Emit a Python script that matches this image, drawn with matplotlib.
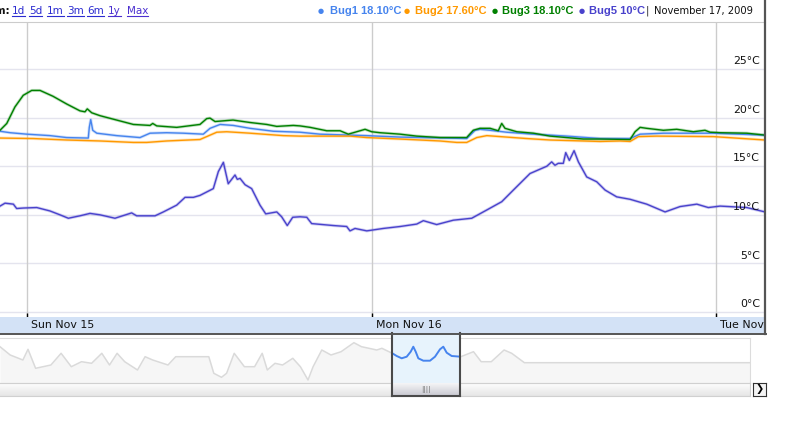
import matplotlib
matplotlib.use("Agg")
import matplotlib.pyplot as plt
import numpy as np
from matplotlib import transforms as mtransforms
from matplotlib.lines import Line2D

plt.rcParams.update({'font.family': 'DejaVu Sans', 'font.size': 8})

# ---- data: hours since Sun Nov 15 00:00, temperatures in degC ----
bug1_hours = [-1.88, -1.18, -0.02, 1.60, 2.77, 4.27, 4.34, 4.44, 4.58, 4.86, 6.25, 7.87, 8.57,
              9.73, 10.89, 12.28, 12.75, 13.45, 14.37, 15.54, 17.16, 19.02, 20.41, 23.67, 25.99,
              29.24, 30.63, 31.21, 31.56, 32.26, 33.42, 35.27, 37.60, 39.92, 42.01, 42.71, 44.33,
              46.42, 47.81, 51.41]
bug1_temp = [18.6, 18.45, 18.3, 18.15, 17.95, 17.9, 19.0, 19.8, 18.7, 18.4, 18.15, 17.95, 18.4,
             18.45, 18.4, 18.3, 18.9, 19.3, 19.2, 18.9, 18.6, 18.5, 18.3, 18.15, 18.0,
             17.9, 17.85, 18.7, 18.8, 18.7, 18.5, 18.3, 18.1, 17.85, 17.85, 18.3, 18.4,
             18.4, 18.4, 18.2]

bug2_hours = [-1.88, 0.44, 2.77, 5.09, 7.41, 8.34, 9.73, 12.05, 13.22, 13.91, 15.54, 17.86, 19.02,
              22.50, 23.67, 25.99, 28.77, 29.94, 30.63, 31.33, 32.03, 33.42, 34.81, 36.44, 38.76,
              39.92, 41.31, 42.01, 42.59, 43.87, 47.81, 51.41]
bug2_temp = [17.9, 17.85, 17.7, 17.6, 17.45, 17.45, 17.6, 17.75, 18.5, 18.55, 18.4, 18.15, 18.1,
             18.1, 17.95, 17.8, 17.6, 17.45, 17.45, 17.95, 18.15, 18.0, 17.85, 17.7, 17.6,
             17.55, 17.6, 17.55, 18.05, 18.1, 18.05, 17.7]

bug3_hours = [-1.88, -1.41, -0.84, -0.26, 0.33, 0.91, 1.81, 2.77, 3.69, 4.04, 4.20, 4.51, 5.09,
              6.25, 7.41, 8.57, 8.76, 9.04, 10.43, 12.05, 12.52, 12.75, 13.10, 13.91, 14.35, 15.54,
              16.70, 17.40, 18.55, 19.02, 19.72, 20.88, 21.81, 22.38, 22.97, 23.55, 24.01, 24.59,
              25.99, 27.15, 28.77, 30.63, 31.09, 31.56, 32.26, 32.83, 33.07, 33.30, 34.12, 35.27,
              36.44, 37.60, 38.76, 39.92, 42.01, 42.36, 42.71, 43.17, 44.33, 45.26, 46.42, 47.23,
              47.58, 48.28, 50.14, 51.41]
bug3_temp = [18.7, 19.4, 21.1, 22.3, 22.8, 22.8, 22.2, 21.4, 20.7, 20.6, 20.9, 20.5, 20.2,
             19.75, 19.3, 19.2, 19.4, 19.15, 19.0, 19.3, 19.9, 19.95, 19.6, 19.7, 19.75, 19.5,
             19.3, 19.1, 19.2, 19.15, 19.0, 18.65, 18.65, 18.3, 18.55, 18.8, 18.55, 18.45,
             18.3, 18.1, 17.95, 17.95, 18.7, 18.9, 18.9, 18.65, 19.4, 18.9, 18.55, 18.4,
             18.1, 17.95, 17.8, 17.8, 17.75, 18.55, 19.0, 18.9, 18.7, 18.8, 18.55, 18.7,
             18.5, 18.45, 18.4, 18.2]

bug5_hours = [-1.88, -1.53, -0.95, -0.72, -0.26, 0.68, 1.60, 2.30, 2.88, 3.69, 4.39, 5.09, 6.13,
              7.29, 7.64, 8.92, 9.50, 10.43, 11.01, 11.59, 12.05, 12.98, 13.33, 13.68, 14.02,
              14.49, 14.65, 14.84, 15.19, 15.65, 16.23, 16.63, 17.40, 17.74, 18.13, 18.51, 19.02,
              19.49, 19.83, 21.34, 22.27, 22.50, 22.85, 23.67, 24.82, 25.99, 27.15, 27.61, 28.54,
              29.70, 30.98, 32.03, 33.07, 33.88, 35.04, 35.74, 36.21, 36.55, 36.78, 37.01, 37.36,
              37.53, 37.78, 38.11, 38.41, 38.99, 39.69, 40.27, 41.08, 42.01, 43.17, 44.45, 45.49,
              46.66, 47.46, 48.28, 50.14, 51.41]
bug5_temp = [10.9, 11.2, 11.1, 10.65, 10.7, 10.75, 10.4, 10.0, 9.65, 9.9, 10.15, 10.0, 9.65,
             10.2, 9.9, 9.9, 10.3, 11.0, 11.8, 11.8, 12.0, 12.7, 14.45, 15.4, 13.2,
             14.1, 13.65, 13.75, 13.1, 12.7, 11.0, 10.1, 10.3, 9.8, 8.9, 9.75, 9.8,
             9.75, 9.1, 8.9, 8.8, 8.35, 8.6, 8.35, 8.6, 8.8, 9.05, 9.4, 9.0,
             9.45, 9.65, 10.5, 11.35, 12.55, 14.25, 14.7, 15.0, 15.45, 15.1, 15.3, 15.3,
             16.4, 15.6, 16.6, 15.45, 13.9, 13.4, 12.55, 11.85, 11.6, 11.1, 10.3, 10.85,
             11.1, 10.75, 10.9, 10.75, 10.3]

series_names = ["Bug1", "Bug2", "Bug3", "Bug5"]
series_colors = ["#4684ee", "#ff9900", "#008000", "#4942cc"]
legend_values = ["18.10°C", "17.60°C", "18.10°C", "10°C"]
date_label = "November 17, 2009"

day_ticks = [0, 24, 48]
day_labels = ["Sun Nov 15", "Mon Nov 16", "Tue Nov 17"]
y_ticks = [0, 5, 10, 15, 20, 25]
zoom_links = ["1d", "5d", "1m", "3m", "6m", "1y", "Max"]

# overview (scroller) series: position along the full range and relative level
ov_pos = [0, 10.2, 22.9, 28, 35.6, 50.9, 61.1, 71.3, 81.5, 91.6, 101.8, 109.5, 117.1, 124.7,
          137.5, 145.1, 152.7, 168, 175.7, 208.8, 213.8, 221.5, 226.6, 234.2, 244.4, 254.6,
          262.2, 267.3, 275, 282.6, 292.8, 300.4, 308, 313.1, 321.8, 331, 341.1, 353.9, 361.5,
          376.8, 381.9, 392.3, 396.7, 401.7, 406.7, 410.7, 413.3, 415.7, 418.3, 423.3, 430,
          435, 440, 443.3, 446.7, 451.7, 460.8, 473.5, 481.2, 491.3, 504.1, 511.7, 524.4, 750]
ov_level = [36.3, 28, 23, 33.7, 14.7, 18, 29.7, 16.3, 21.3, 19.7, 29.7, 18, 29.7, 21.3,
            13, 26.3, 23, 18, 26.3, 26.3, 9.7, 5.7, 9.7, 29.7, 16.3, 16.3,
            29.7, 13, 19.7, 18, 24.7, 16.3, 3, 16.3, 33, 28, 31.3, 40.3, 36.3,
            33, 34.7, 29.7, 27, 24.7, 26.3, 31.3, 36.3, 31.3, 24.7, 22.3, 22.3,
            26.3, 33.7, 36.3, 30.3, 27, 26.3, 31.3, 21.3, 21.3, 33, 29.7, 20.3, 20.3]
window_range = (392, 460)

W, H = 799, 428
fig = plt.figure(figsize=(W / 100, H / 100), dpi=100)


def px_axes(x0, y0, x1, y1):
    return fig.add_axes([x0 / W, 1 - y1 / H, (x1 - x0) / W, (y1 - y0) / H])


def fx(x):
    return x / W


def fy(y):
    return 1 - y / H


# ---- main chart ----
ax = px_axes(0, 22, 765, 317)
xlim = (-1.88, 51.41)
ax.set_xlim(*xlim)
ax.set_ylim(-0.51, 29.84)
for s in ['left', 'right', 'bottom']:
    ax.spines[s].set_visible(False)
ax.spines['top'].set_color('#cccccc')
ax.set_xticks([])
ax.set_yticks([])
for v in y_ticks:
    ax.axhline(v, color='#e4e4ee', lw=1, zorder=1)
for h in day_ticks:
    ax.axvline(h, color='#cccccc', lw=1, zorder=1)
ax.vlines(day_ticks, -0.51, -0.08, color='black', lw=1, zorder=3)

for hrs, temp, c in zip([bug1_hours, bug2_hours, bug3_hours, bug5_hours],
                        [bug1_temp, bug2_temp, bug3_temp, bug5_temp], series_colors):
    ax.plot(hrs, temp, color=c, lw=2.2, alpha=0.25, solid_joinstyle='round', zorder=2)
    ax.plot(hrs, temp, color=c, lw=1.0, solid_joinstyle='round', zorder=3)

for v in y_ticks:
    ax.annotate(f"{v}°C", xy=(1, v), xycoords=('axes fraction', 'data'),
                xytext=(-3.6, 5.6), textcoords='offset points',
                ha='right', va='center', fontsize=7.9, color='#111111', zorder=4)

# ---- date band ----
band = px_axes(0, 317, 765, 333)
band.set_facecolor('#d3e2f6')
band.set_xlim(*xlim)
band.set_ylim(0, 1)
band.set_xticks([])
band.set_yticks([])
for s in band.spines.values():
    s.set_visible(False)
trans = mtransforms.offset_copy(band.get_xaxis_transform(), fig=fig, x=4, y=0, units='dots')
for h, lab in zip(day_ticks, day_labels):
    band.text(h, 0.5, lab, transform=trans, ha='left', va='center', fontsize=7.9,
              color='#111111', clip_on=True)

# borders around chart
fig.add_artist(Line2D([fx(765), fx(765)], [fy(0), fy(334)], color='#555555', lw=1.6))
fig.add_artist(Line2D([fx(0), fx(766)], [fy(333.5), fy(333.5)], color='#555555', lw=1.4))

# ---- overview / scroller ----
ov = px_axes(0, 338, 750, 383)
ov.set_xlim(0, 750)
ov.set_ylim(0, 45)
ov.set_xticks([])
ov.set_yticks([])
ov.spines['left'].set_visible(False)
for s in ['top', 'right', 'bottom']:
    ov.spines[s].set_color('#dcdcdc')
ov.fill_between(ov_pos, ov_level, 0, color='#f6f6f6', lw=0)
ov.plot(ov_pos, ov_level, color='#dadada', lw=1.1)

track = px_axes(0, 383, 750, 396)
grad = np.linspace(0, 1, 20).reshape(-1, 1)
track.imshow(grad, aspect='auto', cmap=plt.matplotlib.colors.LinearSegmentedColormap.from_list(
    'trk', ['#ffffff', '#e6e6e6']), extent=(0, 1, 0, 1))
track.set_xticks([])
track.set_yticks([])
track.spines['left'].set_visible(False)
for s in ['top', 'right', 'bottom']:
    track.spines[s].set_color('#d0d0d0')

win = px_axes(window_range[0], 333, window_range[1], 396)
win.set_facecolor('#e7f3fc')
win.set_xlim(*window_range)
win.set_ylim(-13, 50)
win.set_xticks([])
win.set_yticks([])
win.spines['top'].set_visible(False)
for s in ['left', 'right', 'bottom']:
    win.spines[s].set_color('#4a4a4a')
    win.spines[s].set_linewidth(1.5)
win.plot(ov_pos, ov_level, color='#4684ee', lw=1.4)
hgrad = np.linspace(0, 1, 20).reshape(-1, 1)
win.imshow(hgrad, aspect='auto', extent=(window_range[0], window_range[1], -13, 0),
           cmap=plt.matplotlib.colors.LinearSegmentedColormap.from_list(
               'hdl', ['#f4f4f6', '#c9c9d1']), zorder=2)
win.text(sum(window_range) / 2, -6.5, "||||", ha='center', va='center', fontsize=5,
         color='#777777', zorder=3)

btn = px_axes(753, 383, 766, 396)
btn.set_xticks([])
btn.set_yticks([])
btn.set_facecolor('#f4f4f4')
for s in btn.spines.values():
    s.set_color('#333333')
btn.text(0.5, 0.5, "❯", ha='center', va='center', fontsize=7, fontweight='bold',
         transform=btn.transAxes)

# ---- header: zoom links ("Zoom:" is cut at the left edge as in the original) ----
fig.text(fx(10.5), fy(11), "Zoom:", ha='right', va='center', fontsize=7.4, fontweight='bold',
         color='#111111')
link_x = [12, 29, 47, 67, 87, 108, 127]
link_texts = []
for x, lab in zip(link_x, zoom_links):
    col = '#4b2fd0' if lab in ("1y", "Max") else '#2b2bd0'
    link_texts.append(fig.text(fx(x), fy(11), lab, ha='left', va='center', fontsize=7.5,
                               color=col))

# ---- header: legend ----
dot_x = [321, 407, 495, 582]
lab_x = [330, 415, 502, 589]
for dx, lx, name, val, c in zip(dot_x, lab_x, series_names, legend_values, series_colors):
    fig.text(fx(dx), fy(10.5), "●", ha='center', va='center', fontsize=5, color=c)
    fig.text(fx(lx), fy(11), f"{name} {val}", ha='left', va='center', fontsize=8.0,
             fontweight='bold', family='Liberation Sans', color=c)
fig.text(fx(646), fy(11), "|", ha='left', va='center', fontsize=7.3, color='#333333')
fig.text(fx(654), fy(11), date_label, ha='left', va='center', fontsize=7.2, color='#111111')

# underline the links
fig.canvas.draw()
r = fig.canvas.get_renderer()
for t in link_texts:
    bb = t.get_window_extent(r)
    yb = bb.y0 + 0.5
    fig.add_artist(Line2D([bb.x0 / W, bb.x1 / W], [yb / H, yb / H], color=t.get_color(), lw=0.8))

fig.savefig("out.png", dpi=100)
